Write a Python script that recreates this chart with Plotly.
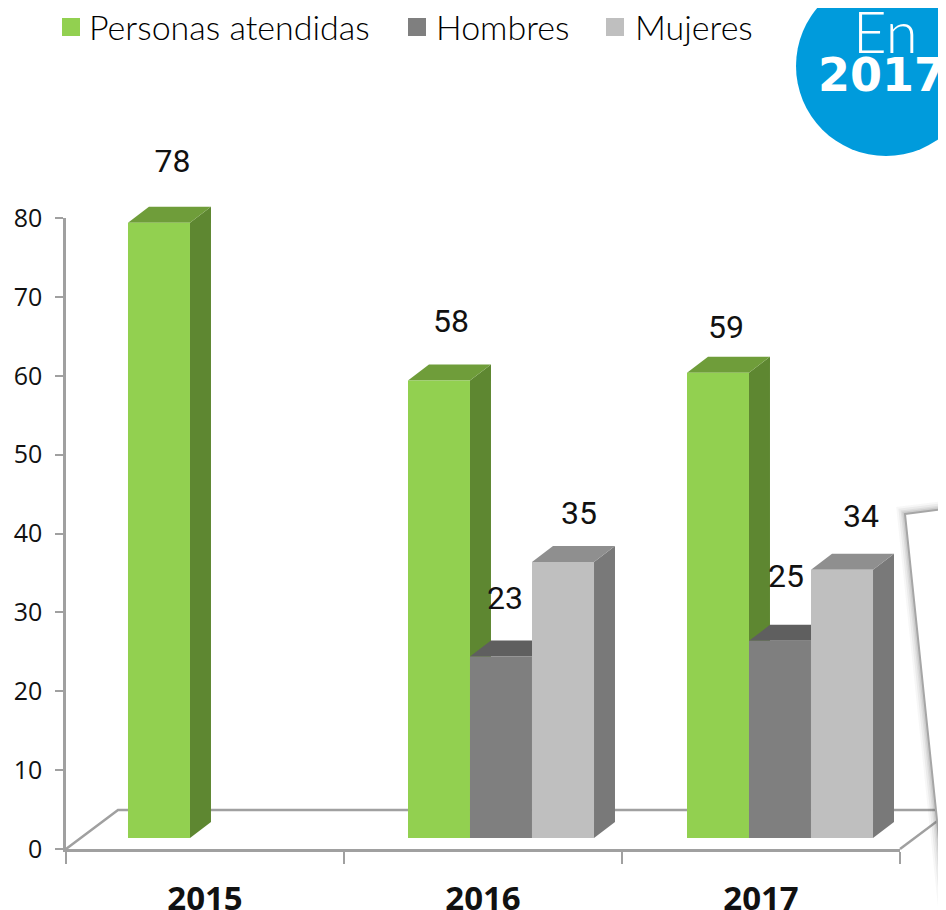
import plotly.graph_objects as go

# ---- data ----
categories = ["2015", "2016", "2017"]
personas = [78, 58, 59]
hombres = [None, 23, 25]
mujeres = [None, 35, 34]
y_ticks = [0, 10, 20, 30, 40, 50, 60, 70, 80]
legend_names = ["Personas atendidas", "Hombres", "Mujeres"]

# ---- bar slots on the numeric category axis ----
personas_x = [0.3345, 1.3417, 2.3453]
hombres_x = [None, 1.5647, 2.5683]
mujeres_x = [None, 1.7878, 2.7914]
bar_width = 0.223
bar_base = 1.39

# ---- geometry (the page sits 8px in from the window's corner) ----
PAGE = 8
W, H = 946 - 2 * PAGE, 910 - PAGE
AX_L, AX_R, AX_T, AX_B = 66 - PAGE, 900 - PAGE, 218 - PAGE, 849 - PAGE
PX_X = (AX_R - AX_L) / 3
PX_Y = (AX_B - AX_T) / 80
depth_x, depth_y = 21 / PX_X, 16 / PX_Y
floor_x, floor_y = 52 / PX_X, 39 / PX_Y

GREEN, GREEN_TOP, GREEN_SIDE = "#92D050", "#6F9D3A", "#5E8731"
DARK, DARK_TOP, DARK_SIDE = "#7F7F7F", "#5F5F5F", "#5F5F5F"
LIGHT, LIGHT_TOP, LIGHT_SIDE = "#BFBFBF", "#8F8F8F", "#797979"
AXIS = "#A0A0A0"

series = [
    (legend_names[0], personas, personas_x, GREEN, GREEN_TOP, GREEN_SIDE),
    (legend_names[1], hombres, hombres_x, DARK, DARK_TOP, DARK_SIDE),
    (legend_names[2], mujeres, mujeres_x, LIGHT, LIGHT_TOP, LIGHT_SIDE),
]

fig = go.Figure()
shapes = []


def poly(points):
    return "M " + " L ".join(f"{x:.4f},{y:.4f}" for x, y in points) + " Z"


# floor
shapes.append(dict(type="path", xref="x", yref="y", layer="below",
                   path=f"M 0,0 L {floor_x},{floor_y} L {W / PX_X},{floor_y}",
                   line=dict(color=AXIS, width=2.5)))
shapes.append(dict(type="path", xref="x", yref="y", layer="below",
                   path=f"M 3,0 L {3 + floor_x},{floor_y}",
                   line=dict(color=AXIS, width=2.5)))

# bars: extruded faces come from the same values as the fronts
for name, values, xs, front, top, side in series:
    for v, c in zip(values, xs):
        if v is None:
            continue
        x0, x1 = c - bar_width / 2, c + bar_width / 2
        y0, y1 = bar_base, bar_base + v
        shapes.append(dict(type="path", xref="x", yref="y", layer="below", line=dict(width=0), fillcolor=side,
                           path=poly([(x1, y0), (x1 + depth_x, y0 + depth_y), (x1 + depth_x, y1 + depth_y), (x1, y1)])))
        shapes.append(dict(type="path", xref="x", yref="y", layer="below", line=dict(width=0), fillcolor=top,
                           path=poly([(x0, y1), (x0 + depth_x, y1 + depth_y), (x1 + depth_x, y1 + depth_y), (x1, y1)])))
    fig.add_trace(go.Bar(x=xs, y=values, base=bar_base, width=bar_width, name=name,
                         marker=dict(color=front, line=dict(width=0)), showlegend=False,
                         xaxis="x", yaxis="y"))

# value labels, nudged as in the reference
pairs = [(personas[0], personas_x[0]), (personas[1], personas_x[1]), (hombres[1], hombres_x[1]),
         (mujeres[1], mujeres_x[1]), (personas[2], personas_x[2]), (hombres[2], hombres_x[2]),
         (mujeres[2], mujeres_x[2])]
label_dx = [13.5, 12, 4, 16, 8, 6, 19]
label_dy = [43, 41, 40, 30, 27, 46, 35]
label_x, label_y, label_text = [], [], []
for (v, c), ldx, ldy in zip(pairs, label_dx, label_dy):
    label_x.append(c + ldx / PX_X)
    label_y.append(bar_base + v + depth_y + ldy / PX_Y)
    label_text.append(str(v))

fig.add_trace(go.Scatter(x=label_x, y=label_y, text=label_text, mode="text", textposition="middle center",
                         textfont=dict(family="Roboto", size=32, color="#111111", weight=400),
                         cliponaxis=False, showlegend=False, hoverinfo="skip", xaxis="x", yaxis="y"))
# the visible axes live on a second subplot, which needs a trace to exist
fig.add_trace(go.Scatter(x=[None], y=[None], mode="lines", showlegend=False, hoverinfo="skip",
                         xaxis="x2", yaxis="y2"))


def px(x):
    return (x - PAGE) / W


def py(y):
    return 1 - (y - PAGE) / H


def dx(x):
    return (x - PAGE - AX_L) / PX_X


def dy(y):
    return (AX_B - (y - PAGE)) / PX_Y


# legend
legend_swatch_left = [62, 408, 606]
legend_text_left = [87, 434, 633]
annotations = []
for name, s_left, t_left, color in zip(legend_names, legend_swatch_left, legend_text_left, [GREEN, DARK, LIGHT]):
    shapes.append(dict(type="rect", xref="paper", yref="paper", x0=px(s_left), x1=px(s_left + 18),
                       y0=py(36), y1=py(18), fillcolor=color, line=dict(width=0), layer="above"))
    annotations.append(dict(xref="x", yref="y", x=dx(t_left), y=dy(26), text=name, showarrow=False,
                            xanchor="left", yanchor="middle",
                            font=dict(family="Lato", size=34, color="#000000", weight=300)))

# badge
shapes.append(dict(type="circle", xref="paper", yref="paper", x0=px(796), x1=px(976), y0=py(156), y1=py(-24),
                   fillcolor="#009BDC", line=dict(width=0), layer="above"))
annotations.append(dict(xref="x", yref="y", x=dx(885), y=dy(30), text="En", showarrow=False,
                        font=dict(family="Lato", size=58, color="white", weight=300)))
annotations.append(dict(xref="x", yref="y", x=dx(882), y=dy(75), text="2017", showarrow=False,
                        font=dict(family="DejaVu Sans", size=46, color="white", weight=700)))

# overlapping sheet of paper at the right edge
sheet = [(905, 514), (960, 507), (960, 1040)]
sheet_path = "M " + " L ".join(f"{px(x):.5f},{py(y):.5f}" for x, y in sheet) + " Z"
for width, alpha in [(16, 0.05), (12, 0.07), (8, 0.09), (5, 0.12)]:
    shapes.append(dict(type="path", xref="paper", yref="paper", path=sheet_path, layer="above",
                       line=dict(color=f"rgba(90,90,90,{alpha})", width=width), fillcolor="rgba(0,0,0,0)"))
shapes.append(dict(type="path", xref="paper", yref="paper", path=sheet_path, layer="above",
                   line=dict(color="#A6A6A6", width=2), fillcolor="white"))

fig.update_layout(
    width=W, height=H, autosize=False,
    margin=dict(l=0, r=0, t=0, b=0, pad=0),
    paper_bgcolor="white", plot_bgcolor="rgba(0,0,0,0)",
    barmode="overlay", shapes=shapes, annotations=annotations, showlegend=False,
    xaxis=dict(visible=False, domain=[0, 1], range=[-AX_L / PX_X, (W - AX_L) / PX_X], fixedrange=True),
    yaxis=dict(visible=False, domain=[0, 1], range=[-(H - AX_B) / PX_Y, AX_B / PX_Y], fixedrange=True),
    xaxis2=dict(domain=[AX_L / W, AX_R / W], range=[0, 3], anchor="y2", showgrid=False, zeroline=False,
                automargin=False, showline=True, linecolor=AXIS, linewidth=2.5,
                tickmode="array", tickvals=[0.5, 1.5, 2.5], ticktext=categories, ticks="", ticklabelstandoff=19,
                tickfont=dict(family="Open Sans", size=33, color="#111111", weight=700),
                minor=dict(tickmode="array", tickvals=[0, 1, 2, 3], ticks="outside", ticklen=12,
                           tickcolor=AXIS, tickwidth=2, showgrid=False)),
    yaxis2=dict(domain=[1 - AX_B / H, 1 - AX_T / H], range=[0, 80], anchor="x2", showgrid=False, zeroline=False,
                automargin=False, showline=True, linecolor=AXIS, linewidth=2.5,
                tickmode="array", tickvals=y_ticks, ticks="outside", ticklen=8, tickcolor=AXIS, tickwidth=2,
                ticklabelstandoff=8, tickfont=dict(family="Open Sans", size=25, color="#111111")),
)
fig.write_html("out.html")
